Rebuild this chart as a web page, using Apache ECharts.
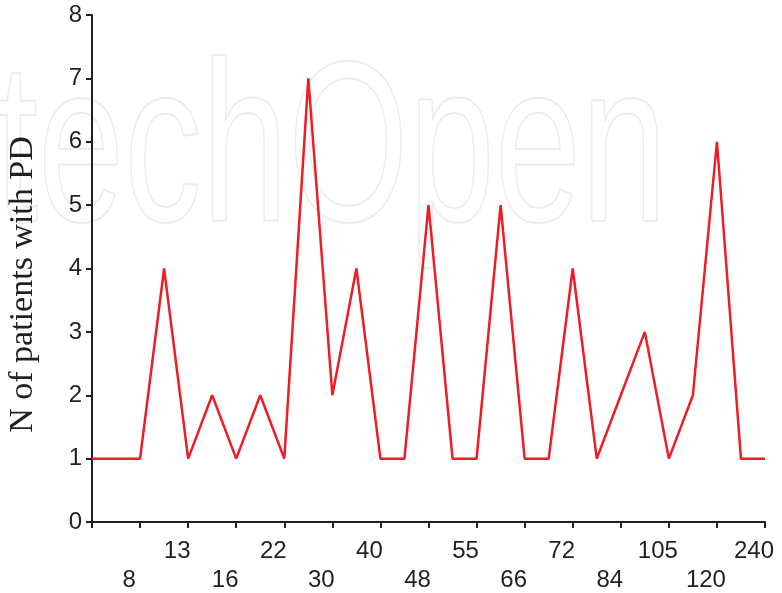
<!DOCTYPE html>
<html>
<head>
<meta charset="utf-8">
<script src="https://cdn.jsdelivr.net/npm/echarts@6/dist/echarts.min.js"></script>
<style>
html,body{margin:0;padding:0;background:#fff;}
#chart{width:782px;height:593px;}
</style>
</head>
<body>
<div id="chart"></div>
<script>
// Number of patients with PD per point (29 points, labelled every second point)
var values = [1, 1, 1, 4, 1, 2, 1, 2, 1, 7, 2, 4, 1, 1, 5, 1, 1, 5, 1, 1, 4, 1, 2, 3, 1, 2, 6, 1, 1];
// Tick labels shown at every second point starting from index 2
var tickLabels = ['8', '13', '16', '22', '30', '40', '48', '55', '66', '72', '84', '105', '120', '240'];
var yTitle = 'N of patients with PD';

var categories = values.map(function (v, i) { return String(i); });

var chart = echarts.init(document.getElementById('chart'), null, {renderer: 'canvas'});
var ink = '#231f20';

chart.setOption({
  animation: false,
  backgroundColor: '#ffffff',
  graphic: [{
    type: 'text',
    z: -10,
    silent: true,
    x: -5,
    y: 158,
    scaleX: 0.68,
    style: {
      text: 'techOpen',
      x: 0,
      y: 0,
      font: '228px "Liberation Sans", Arial, sans-serif',
      verticalAlign: 'middle',
      fill: 'none',
      stroke: '#ececec',
      lineWidth: 2
    }
  }],
  grid: {left: 92, right: 17, top: 15, bottom: 71, containLabel: false, outerBoundsMode: 'none'},
  xAxis: {
    type: 'category',
    data: categories,
    boundaryGap: false,
    axisLine: {show: true, lineStyle: {color: ink, width: 2}},
    axisTick: {show: true, interval: 1, length: 6, lineStyle: {color: ink, width: 2}},
    axisLabel: {
      interval: 1,
      margin: 17,
      color: ink,
      fontFamily: '"Liberation Sans", Arial, sans-serif',
      fontSize: 24,
      formatter: function (val, idx) {
        if (idx < 2) return '';
        var k = idx / 2 - 1;
        var t = tickLabels[k];
        if (t === undefined) return '';
        return (k % 2 === 0 ? '{l|' : '{u|') + t + '}';
      },
      rich: {
        u: {fontSize: 24, color: ink, fontFamily: '"Liberation Sans", Arial, sans-serif', padding: [0, 22, 0, 0]},
        l: {fontSize: 24, color: ink, fontFamily: '"Liberation Sans", Arial, sans-serif', padding: [29, 22, 0, 0]}
      }
    },
    splitLine: {show: false}
  },
  yAxis: {
    type: 'value',
    min: 0,
    max: 8,
    interval: 1,
    name: yTitle,
    nameLocation: 'middle',
    nameRotate: 90,
    nameGap: 52,
    nameTextStyle: {
      fontFamily: '"Liberation Serif", "Times New Roman", serif',
      fontSize: 34,
      color: ink,
      padding: [0, 32, 0, 0]
    },
    axisLine: {show: true, lineStyle: {color: ink, width: 2}},
    axisTick: {show: true, length: 6, lineStyle: {color: ink, width: 2}},
    axisLabel: {
      margin: 10,
      color: ink,
      fontFamily: '"Liberation Sans", Arial, sans-serif',
      fontSize: 24
    },
    splitLine: {show: false}
  },
  series: [{
    type: 'line',
    data: values,
    symbol: 'none',
    lineStyle: {color: '#ee1c25', width: 2.5},
    z: 5
  }]
});
</script>
</body>
</html>
